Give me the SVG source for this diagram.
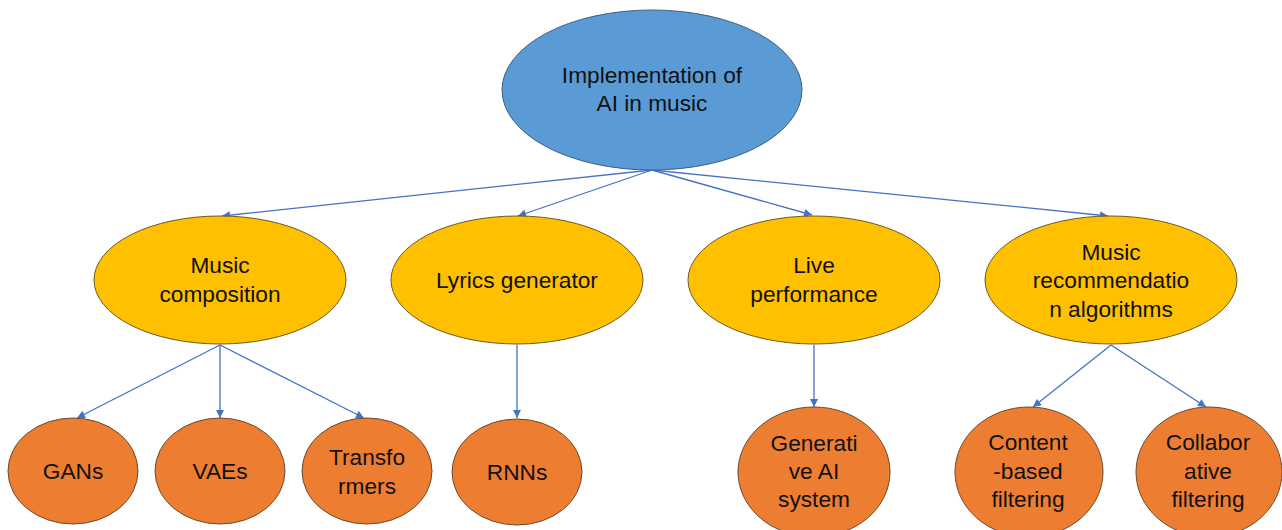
<svg xmlns="http://www.w3.org/2000/svg" width="1282" height="530" viewBox="0 0 1282 530">
<style>
.t{font-family:"Liberation Sans",Arial,sans-serif;font-size:22.7px;fill:#111;text-anchor:middle}
.blue{fill:#5B9BD5;stroke:#3b5f80;stroke-width:1}
.gold{fill:#FFC000;stroke:#6b5a2a;stroke-width:1}
.org{fill:#ED7D31;stroke:#6b4a30;stroke-width:1}
.c{stroke:#4472C4;stroke-width:1.3;fill:none;marker-end:url(#ah)}
</style>
<defs>
<marker id="ah" viewBox="0 0 10 10" refX="10" refY="5" markerWidth="9" markerHeight="8" markerUnits="userSpaceOnUse" orient="auto">
<path d="M0,0 L10,5 L0,10 z" fill="#4472C4"/>
</marker>
</defs>
<rect width="1282" height="530" fill="#fff"/>
<g id="connectors">
<line class="c" x1="652" y1="170" x2="222" y2="216"/>
<line class="c" x1="652" y1="170" x2="518" y2="216"/>
<line class="c" x1="652" y1="170" x2="812" y2="215"/>
<line class="c" x1="652" y1="170" x2="1108" y2="216"/>
<line class="c" x1="220" y1="345" x2="77" y2="418"/>
<line class="c" x1="220" y1="345" x2="220" y2="418"/>
<line class="c" x1="220" y1="345" x2="364" y2="418"/>
<line class="c" x1="517" y1="345" x2="517" y2="418"/>
<line class="c" x1="814" y1="345" x2="814" y2="407"/>
<line class="c" x1="1111" y1="345" x2="1033" y2="407"/>
<line class="c" x1="1111" y1="345" x2="1206" y2="407"/>
</g>
<g id="root">
<ellipse class="blue" cx="652" cy="90" rx="150" ry="80"/>
<text class="t" x="652" y="83">Implementation of</text>
<text class="t" x="652" y="111">AI in music</text>
</g>
<g id="music-composition">
<ellipse class="gold" cx="220" cy="280" rx="126" ry="64"/>
<text class="t" x="220" y="273">Music</text>
<text class="t" x="220" y="302">composition</text>
</g>
<g id="lyrics-generator">
<ellipse class="gold" cx="517" cy="280" rx="126" ry="64"/>
<text class="t" x="517" y="288">Lyrics generator</text>
</g>
<g id="live-performance">
<ellipse class="gold" cx="814" cy="280" rx="126" ry="64"/>
<text class="t" x="814" y="273">Live</text>
<text class="t" x="814" y="302">performance</text>
</g>
<g id="music-recommendation">
<ellipse class="gold" cx="1111" cy="280" rx="126" ry="64"/>
<text class="t" x="1111" y="260">Music</text>
<text class="t" x="1111" y="288">recommendatio</text>
<text class="t" x="1111" y="317">n algorithms</text>
</g>
<g id="gans">
<ellipse class="org" cx="73" cy="471" rx="65" ry="53"/>
<text class="t" x="73" y="479">GANs</text>
</g>
<g id="vaes">
<ellipse class="org" cx="220" cy="471" rx="65" ry="53"/>
<text class="t" x="220" y="479">VAEs</text>
</g>
<g id="transformers">
<ellipse class="org" cx="367" cy="471" rx="65" ry="53"/>
<text class="t" x="367" y="465">Transfo</text>
<text class="t" x="367" y="494">rmers</text>
</g>
<g id="rnns">
<ellipse class="org" cx="517" cy="472" rx="65" ry="53"/>
<text class="t" x="517" y="480">RNNs</text>
</g>
<g id="generative-ai">
<ellipse class="org" cx="814" cy="472" rx="76" ry="65"/>
<text class="t" x="814" y="451">Generati</text>
<text class="t" x="814" y="479">ve AI</text>
<text class="t" x="814" y="507">system</text>
</g>
<g id="content-based">
<ellipse class="org" cx="1029" cy="472" rx="74" ry="65"/>
<text class="t" x="1028" y="450">Content</text>
<text class="t" x="1028" y="479">-based</text>
<text class="t" x="1028" y="507">filtering</text>
</g>
<g id="collaborative">
<ellipse class="org" cx="1209" cy="472" rx="73" ry="65"/>
<text class="t" x="1208" y="450">Collabor</text>
<text class="t" x="1208" y="479">ative</text>
<text class="t" x="1208" y="507">filtering</text>
</g>
</svg>
